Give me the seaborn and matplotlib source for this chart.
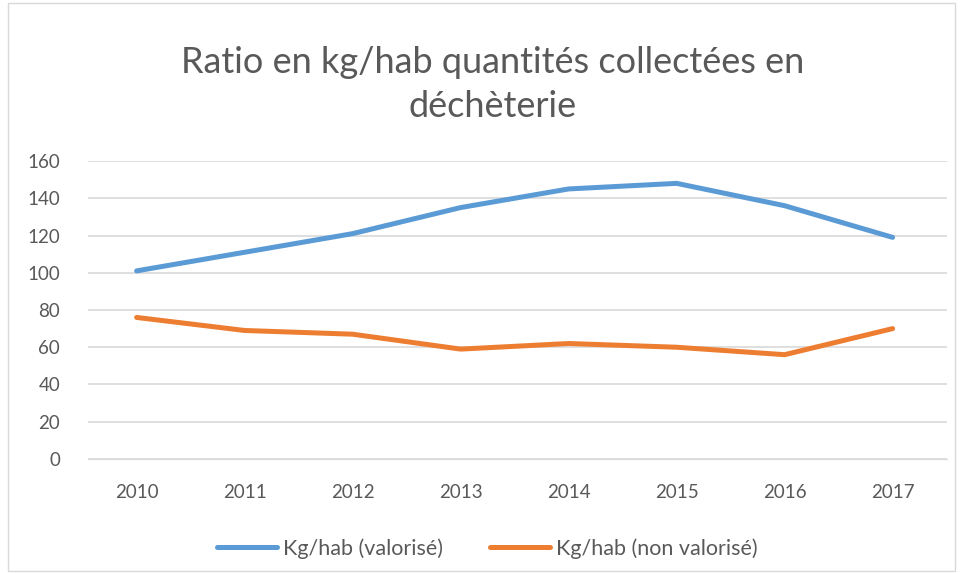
import seaborn as sns
import matplotlib.pyplot as plt
import matplotlib.patches as mpatches
import pandas as pd

years = [2010, 2011, 2012, 2013, 2014, 2015, 2016, 2017]
valorise = [101, 111, 121, 135, 145, 148, 136, 119]
non_valorise = [76, 69, 67, 59, 62, 60, 56, 70]
series_names = ["Kg/hab (valorisé)", "Kg/hab (non valorisé)"]

df = pd.DataFrame({
    "Année": years * 2,
    "Valeur": valorise + non_valorise,
    "Série": [series_names[0]] * len(years) + [series_names[1]] * len(years),
})

sns.set_style("white")
plt.rcParams['font.family'] = ['Lato', 'DejaVu Sans']
grey = "#595959"

fig = plt.figure(figsize=(9.62, 5.73), dpi=100)
ax = fig.add_axes([0.0915, 0.199, 0.8925, 0.52])

sns.lineplot(data=df, x="Année", y="Valeur", hue="Série", ax=ax,
             palette=["#5b9bd5", "#ed7d31"], linewidth=3.6, legend=True)

ax.set_xlim(2009.55, 2017.5)
ax.set_ylim(0, 160)
ax.set_yticks(range(0, 161, 20))
ax.set_xticks(years)
ax.grid(axis="y", color="#d9d9d9", linewidth=1.2)
ax.set_axisbelow(True)
for s in ["top", "right", "left"]:
    ax.spines[s].set_visible(False)
ax.spines["bottom"].set_color("#d9d9d9")
ax.tick_params(axis="both", colors=grey, labelsize=13.5, length=0)
ax.tick_params(axis="x", pad=18)
ax.tick_params(axis="y", pad=20)
ax.set_xlabel("")
ax.set_ylabel("")

for line in ax.get_lines():
    line.set_solid_capstyle("round")

handles, labels = ax.get_legend_handles_labels()
ax.legend(handles, labels, loc="upper center", bbox_to_anchor=(0.465, -0.2),
          ncol=2, frameon=False, fontsize=15.5, labelcolor=grey,
          handlelength=2.8, columnspacing=2.2, handletextpad=0.25)

fig.text(0.512, 0.852, "Ratio en kg/hab quantités collectées en\ndéchèterie",
         ha="center", va="center", fontsize=26, color=grey, linespacing=1.4)

fig.patches.append(mpatches.Rectangle((0.008, 0.004), 0.985, 0.99, transform=fig.transFigure,
                                      fill=False, edgecolor="#d9d9d9", linewidth=1))

fig.savefig("out.png", dpi=100)
